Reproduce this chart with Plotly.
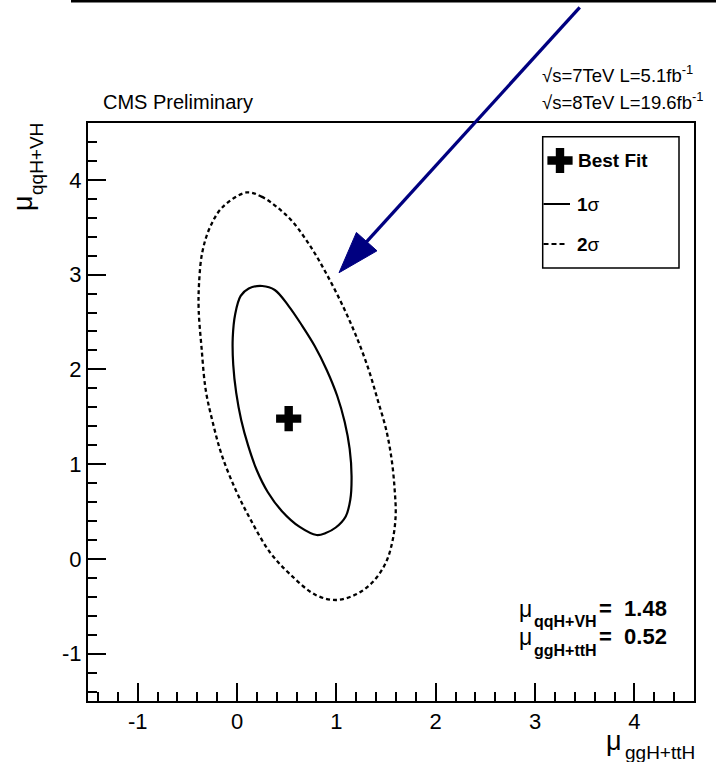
import plotly.graph_objects as go

# ---------------------------------------------------------------- data
X_RANGE = [-1.5, 4.6]
Y_RANGE = [-1.5, 4.6]

tick_vals = [-1, 0, 1, 2, 3, 4]
tick_text = ["-1", "0", "1", "2", "3", "4"]

best_fit_ggH = [0.52]
best_fit_qqH = [1.48]

# 68% CL contour (1 sigma), closed curve
sigma1_ggH = [0.254, 0.380, 0.520, 0.651, 0.782, 0.903, 1.009, 1.084, 1.134,
              1.153, 1.140, 1.094, 0.994, 0.893, 0.802, 0.631, 0.450, 0.309,
              0.198, 0.113, 0.042, -0.008, -0.038, -0.043, -0.018, 0.037, 0.118,
              0.254]
sigma1_qqH = [2.880, 2.838, 2.668, 2.468, 2.247, 1.994, 1.719, 1.444, 1.160,
              0.875, 0.622, 0.448, 0.331, 0.273, 0.252, 0.337, 0.506, 0.706,
              0.938, 1.192, 1.466, 1.751, 2.047, 2.332, 2.585, 2.775, 2.854,
              2.880]

# 95% CL contour (2 sigma), closed curve
sigma2_ggH = [0.098, 0.246, 0.397, 0.561, 0.762, 0.933, 1.084, 1.215, 1.326,
              1.416, 1.502, 1.557, 1.587, 1.597, 1.567, 1.497, 1.366, 1.205,
              1.004, 0.792, 0.531, 0.329, 0.138, -0.013, -0.154, -0.242,
              -0.315, -0.358, -0.386, -0.383, -0.351, -0.275, -0.144, 0.098]
sigma2_qqH = [3.867, 3.823, 3.717, 3.556, 3.260, 2.944, 2.627, 2.311, 1.994,
              1.677, 1.361, 1.044, 0.727, 0.463, 0.199, -0.043, -0.244, -0.371,
              -0.434, -0.381, -0.159, 0.073, 0.411, 0.727, 1.097, 1.431,
              1.783, 2.240, 2.627, 2.891, 3.228, 3.492, 3.714, 3.867]

# arrow (data coordinates): tail, tip and the two back corners of the head
arrow_tail = (3.45, 5.82)
arrow_tip = (1.027, 3.02)
arrow_head_a = (1.202, 3.445)
arrow_head_b = (1.409, 3.251)

FONT = "Liberation Sans, Arial, Helvetica, sans-serif"
NAVY = "#000080"

W, H = 716, 762
L, R, T, B = 88, 22, 123, 61
PW, PH = W - L - R, H - T - B


def px(x):
    """horizontal pixel -> paper fraction"""
    return (x - L) / PW


def py(y):
    """vertical pixel (from top) -> paper fraction"""
    return (H - B - y) / PH


def dx(v):
    """data x -> paper fraction"""
    return (v - X_RANGE[0]) / (X_RANGE[1] - X_RANGE[0])


def dy(v):
    """data y -> paper fraction"""
    return (v - Y_RANGE[0]) / (Y_RANGE[1] - Y_RANGE[0])


fig = go.Figure()

fig.add_trace(go.Scatter(
    x=sigma2_ggH, y=sigma2_qqH, mode="lines", line_shape="spline",
    line=dict(color="black", width=2.3, dash="4px,3px", smoothing=1.0),
    showlegend=False,
))
fig.add_trace(go.Scatter(
    x=sigma1_ggH, y=sigma1_qqH, mode="lines", line_shape="spline",
    line=dict(color="black", width=2.2, smoothing=1.0), showlegend=False,
))
fig.add_trace(go.Scatter(
    x=best_fit_ggH, y=best_fit_qqH, mode="markers",
    marker=dict(symbol="cross", size=21, color="black"), showlegend=False,
))

axis_common = dict(
    showline=True, linewidth=2, linecolor="black", mirror=True,
    ticks="inside", ticklen=18, tickwidth=2, tickcolor="black",
    minor=dict(ticks="inside", ticklen=9, tickwidth=2, tickcolor="black", dtick=0.2),
    tickvals=tick_vals, ticktext=tick_text,
    showgrid=False, zeroline=False,
    tickfont=dict(family=FONT, size=22, color="black"),
)
fig.update_xaxes(range=X_RANGE, **axis_common)
fig.update_yaxes(range=Y_RANGE, **axis_common)

shapes = []
annotations = []

# rule across the top of the page
shapes.append(dict(type="line", xref="paper", yref="paper",
                   x0=px(71), x1=px(716), y0=py(1.2), y1=py(1.2),
                   line=dict(color="black", width=2.5)))

# arrow pointing at the 2 sigma contour
base = ((arrow_head_a[0] + arrow_head_b[0]) / 2, (arrow_head_a[1] + arrow_head_b[1]) / 2)
shapes.append(dict(type="line", xref="paper", yref="paper",
                   x0=dx(arrow_tail[0]), y0=dy(arrow_tail[1]),
                   x1=dx(base[0]), y1=dy(base[1]),
                   line=dict(color=NAVY, width=3.3)))
shapes.append(dict(type="path", xref="paper", yref="paper",
                   path=(f"M{dx(arrow_tip[0])},{dy(arrow_tip[1])} "
                         f"L{dx(arrow_head_a[0])},{dy(arrow_head_a[1])} "
                         f"L{dx(arrow_head_b[0])},{dy(arrow_head_b[1])} Z"),
                   fillcolor=NAVY, line=dict(color=NAVY, width=1)))

# legend box
shapes.append(dict(type="rect", xref="paper", yref="paper",
                   x0=px(542.7), x1=px(679), y0=py(268), y1=py(136.7),
                   fillcolor="white", line=dict(color="black", width=1.5)))
# legend cross glyph
cx, cy, hl, ht = 560, 160.5, 12.6, 4.2
cross_pts = [(cx - hl, cy - ht), (cx - ht, cy - ht), (cx - ht, cy - hl), (cx + ht, cy - hl),
             (cx + ht, cy - ht), (cx + hl, cy - ht), (cx + hl, cy + ht), (cx + ht, cy + ht),
             (cx + ht, cy + hl), (cx - ht, cy + hl), (cx - ht, cy + ht), (cx - hl, cy + ht)]
path = "M" + " L".join(f"{px(a)},{py(b)}" for a, b in cross_pts) + " Z"
shapes.append(dict(type="path", xref="paper", yref="paper", path=path,
                   fillcolor="black", line=dict(width=0)))
shapes.append(dict(type="line", xref="paper", yref="paper",
                   x0=px(543.5), x1=px(570), y0=py(204), y1=py(204),
                   line=dict(color="black", width=2)))
shapes.append(dict(type="line", xref="paper", yref="paper",
                   x0=px(543.5), x1=px(566), y0=py(244), y1=py(244),
                   line=dict(color="black", width=2, dash="5px,3px")))


def text(x, y, s, size, xanchor="left", yanchor="middle", angle=0):
    annotations.append(dict(
        x=px(x), y=py(y), xref="paper", yref="paper", text=s, showarrow=False,
        xanchor=xanchor, yanchor=yanchor, textangle=angle,
        font=dict(family=FONT, size=size, color="black"), borderpad=0,
    ))


text(577, 160.5, "<b>Best Fit</b>", 19)
text(576, 204, "<b>1</b>σ", 19)
text(576, 244, "<b>2</b>σ", 19)

text(102, 102, "CMS Preliminary", 20)
text(541, 74, "√s=7TeV L=5.1fb<sup>-1</sup>", 18.5)
text(541, 101, "√s=8TeV L=19.6fb<sup>-1</sup>", 18.5)

# x-axis title
text(623, 741, "μ", 27, xanchor="right")
text(624, 752, "ggH+ttH", 19)
# y-axis title (rotated)
text(23, 212, "μ", 27, xanchor="center", yanchor="bottom", angle=-90)
text(36, 196, "qqH+VH", 19, xanchor="center", yanchor="bottom", angle=-90)

# best-fit values
text(533, 609, "μ", 23, xanchor="right")
text(533, 621, "<b>qqH+VH</b>", 16)
text(598, 608, "<b>=  1.48</b>", 22)
text(533, 637, "μ", 23, xanchor="right")
text(533, 650, "<b>ggH+ttH</b>", 16)
text(598, 636, "<b>=  0.52</b>", 22)

fig.update_layout(
    width=W, height=H,
    margin=dict(l=L, r=R, t=T, b=B, pad=0),
    plot_bgcolor="white", paper_bgcolor="white",
    shapes=shapes, annotations=annotations,
    showlegend=False,
    font=dict(family=FONT, color="black"),
)

fig.write_html("out.html")
